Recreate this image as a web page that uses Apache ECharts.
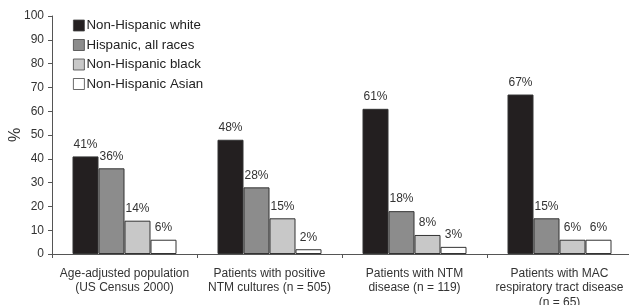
<!DOCTYPE html>
<html><head><meta charset="utf-8">
<script src="https://cdn.jsdelivr.net/npm/echarts@6/dist/echarts.min.js"></script>
<style>html,body{margin:0;padding:0;background:#fff}#c{width:629px;height:305px}</style>
</head><body><div id="c"></div>
<script>
var categories = ["Age-adjusted population\n(US Census 2000)", "Patients with positive\nNTM cultures (n = 505)", "Patients with NTM\ndisease (n = 119)", "Patients with MAC\nrespiratory tract disease\n(n = 65)"];
var seriesNames = ["Non-Hispanic white", "Hispanic, all races", "Non-Hispanic black", "Non-Hispanic Asian"];
var nhWhite = [41, 48, 61, 67];
var hispanic = [36, 28, 18, 15];
var nhBlack = [14, 15, 8, 6];
var nhAsian = [6, 2, 3, 6];
var yTicks = [0, 10, 20, 30, 40, 50, 60, 70, 80, 90, 100];

var colors = ["#231f20", "#8c8c8c", "#c8c8c8", "#ffffff"];
var font = "Liberation Sans, Arial, sans-serif";
var values = [nhWhite, hispanic, nhBlack, nhAsian];
var chart = echarts.init(document.getElementById('c'), null, {renderer: 'canvas'});
chart.setOption({
  animation: false,
  textStyle: {fontFamily: font},
  grid: {left: 52, right: -3, top: 16, bottom: 51, containLabel: false, outerBoundsMode: 'none'},
  legend: {
    orient: 'vertical', left: 73, top: 19, padding: 0,
    itemWidth: 11, itemHeight: 11, itemGap: 6.5,
    textStyle: {fontSize: 13.3, color: '#222', fontFamily: font, padding: [0, 0, 0, -3]},
    data: seriesNames.map(function (n, i) { return {name: n, icon: 'rect', itemStyle: {color: colors[i], borderColor: '#444', borderWidth: 0.8}}; })
  },
  xAxis: {
    type: 'category', data: categories,
    axisLine: {lineStyle: {color: '#555', width: 1}},
    axisTick: {show: true, length: 4, lineStyle: {color: '#555'}},
    axisLabel: {color: '#333', fontSize: 12, margin: 12, lineHeight: 14.5, interval: 0}
  },
  yAxis: {
    type: 'value', min: 0, max: 100, interval: 10,
    name: '%', nameLocation: 'middle', nameGap: 28, nameRotate: 90, nameMoveOverlap: false,
    nameTextStyle: {fontSize: 16, color: '#333'},
    axisLine: {show: true, lineStyle: {color: '#555'}},
    axisTick: {show: true, length: 4, lineStyle: {color: '#555'}},
    axisLabel: {color: '#333', fontSize: 12, margin: 8},
    splitLine: {show: false}
  },
  series: values.map(function (v, i) {
    return {
      name: seriesNames[i], type: 'bar', data: v,
      barWidth: 26, barGap: '0%',
      itemStyle: {color: colors[i], borderColor: '#333', borderWidth: 1},
      label: {show: true, position: 'top', distance: 6, formatter: '{c}%', fontSize: 12, color: '#333'}
    };
  })
});
</script></body></html>
